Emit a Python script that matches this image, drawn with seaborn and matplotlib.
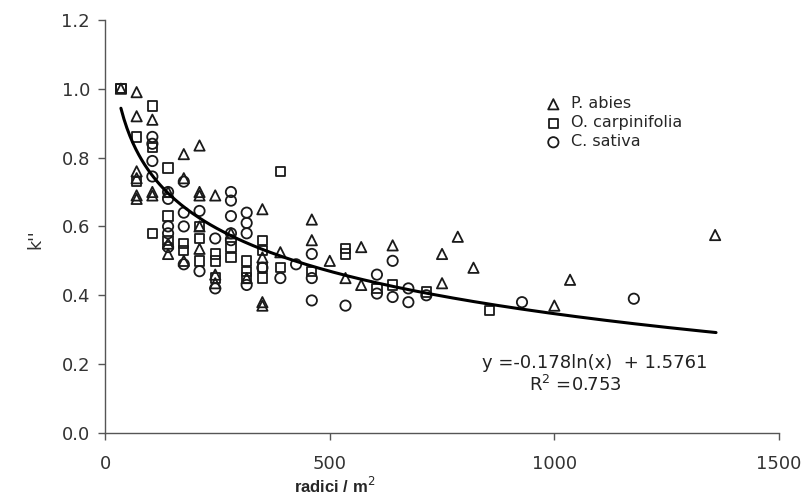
import numpy as np
import pandas as pd
import matplotlib
matplotlib.use('Agg')
import matplotlib.pyplot as plt
import seaborn as sns

# =========================
# Dati
# =========================
abies_x = [35, 70, 70, 70, 70, 70, 70, 105, 105, 105, 140, 140, 140, 175, 175, 175,
           210, 210, 210, 210, 210, 245, 245, 245, 280, 315, 350, 350, 350, 350, 390,
           460, 460, 500, 535, 570, 570, 640, 750, 750, 785, 820, 1000, 1035, 1358]
abies_y = [1.0, 0.99, 0.92, 0.76, 0.74, 0.69, 0.68, 0.91, 0.70, 0.69, 0.70, 0.55, 0.52, 0.81, 0.74, 0.50,
           0.835, 0.70, 0.69, 0.60, 0.535, 0.69, 0.46, 0.435, 0.58, 0.45, 0.65, 0.51, 0.38, 0.37, 0.525,
           0.62, 0.56, 0.50, 0.45, 0.54, 0.43, 0.545, 0.52, 0.435, 0.57, 0.48, 0.37, 0.445, 0.575]

carp_x = [35, 35, 70, 70, 105, 105, 105, 140, 140, 140, 175, 175, 210, 210, 210,
          245, 245, 245, 280, 280, 315, 315, 315, 350, 350, 350, 350, 390, 390,
          460, 535, 535, 605, 640, 715, 855]
carp_y = [1.0, 1.0, 0.86, 0.73, 0.95, 0.83, 0.58, 0.77, 0.63, 0.56, 0.55, 0.53, 0.60, 0.565, 0.50,
          0.52, 0.50, 0.45, 0.54, 0.51, 0.50, 0.47, 0.45, 0.56, 0.53, 0.48, 0.45, 0.76, 0.48,
          0.47, 0.535, 0.52, 0.42, 0.43, 0.41, 0.355]

sativa_x = [105, 105, 105, 105, 140, 140, 140, 140, 140, 175, 175, 175, 175, 210, 210,
            245, 245, 280, 280, 280, 280, 280, 315, 315, 315, 315, 350, 390, 425,
            460, 460, 460, 535, 605, 605, 640, 640, 675, 675, 715, 928, 1177]
sativa_y = [0.86, 0.84, 0.79, 0.745, 0.70, 0.68, 0.60, 0.58, 0.54, 0.73, 0.64, 0.60, 0.49, 0.645, 0.47,
            0.565, 0.42, 0.70, 0.675, 0.63, 0.58, 0.56, 0.64, 0.61, 0.58, 0.43, 0.48, 0.45, 0.49,
            0.52, 0.45, 0.385, 0.37, 0.46, 0.405, 0.50, 0.395, 0.42, 0.38, 0.40, 0.38, 0.39]

# coefficienti della curva di tendenza logaritmica
coef_a = -0.178
coef_b = 1.5761
r2 = 0.753

df = pd.concat([
    pd.DataFrame({'x': abies_x, 'y': abies_y, 'specie': 'P. abies'}),
    pd.DataFrame({'x': carp_x, 'y': carp_y, 'specie': 'O. carpinifolia'}),
    pd.DataFrame({'x': sativa_x, 'y': sativa_y, 'specie': 'C. sativa'}),
])

# =========================
# Grafico
# =========================
sns.set_style('ticks')
plt.rcParams['font.family'] = ['DejaVu Sans']

fig = plt.figure(figsize=(8.03, 4.96), dpi=100)
ax = fig.add_axes([0.131, 0.127, 0.839, 0.833])

markers = {'P. abies': '^', 'O. carpinifolia': 's', 'C. sativa': 'o'}
sizes = {'P. abies': 55, 'O. carpinifolia': 45, 'C. sativa': 55}
for sp in ['P. abies', 'O. carpinifolia', 'C. sativa']:
    sub = df[df['specie'] == sp]
    sns.scatterplot(data=sub, x='x', y='y', marker=markers[sp], s=sizes[sp],
                    facecolor='none', edgecolor='#1a1a1a', linewidth=1.3,
                    label=sp, ax=ax, zorder=3)

# curva di tendenza
xc = np.linspace(35, 1360, 200)
curve = pd.DataFrame({'x': xc, 'y': coef_a * np.log(xc) + coef_b})
sns.lineplot(data=curve, x='x', y='y', color='black', linewidth=2.2, ax=ax, zorder=4)

ax.set_xlim(0, 1500)
ax.set_ylim(0, 1.2)
ax.set_xticks([0, 500, 1000, 1500])
ax.set_yticks(np.arange(0, 1.21, 0.2))
ax.set_yticklabels([f'{v:.1f}' for v in np.arange(0, 1.21, 0.2)])
ax.tick_params(axis='both', direction='out', length=5, width=1, color='#555555',
               labelsize=13, labelcolor='#333333', pad=6)
ax.tick_params(axis='x', pad=11)
for s in ['left', 'bottom']:
    ax.spines[s].set_color('#555555')
    ax.spines[s].set_linewidth(1)
sns.despine(ax=ax)

ax.set_xlabel('radici / m$^2$', fontsize=12, fontweight='bold',
              family=['Liberation Sans Narrow', 'Liberation Sans'])
ax.xaxis.set_label_coords(0.34, -0.105)
ax.set_ylabel("k''", fontsize=12.5, color='#333333')
ax.yaxis.set_label_coords(-0.09, 0.47)

ax.text(1090, 0.203, 'y =-0.178ln(x)  + 1.5761', fontsize=13, color='#222222',
        ha='center', va='center')
ax.text(1046, 0.139, 'R$^2$ =0.753', fontsize=13, color='#222222',
        ha='center', va='center')

ax.legend(loc='upper left', bbox_to_anchor=(0.632, 0.83), frameon=False,
          fontsize=11.5, handletextpad=0.1, labelspacing=0.25, borderaxespad=0)

plt.savefig('out.png', dpi=100)
